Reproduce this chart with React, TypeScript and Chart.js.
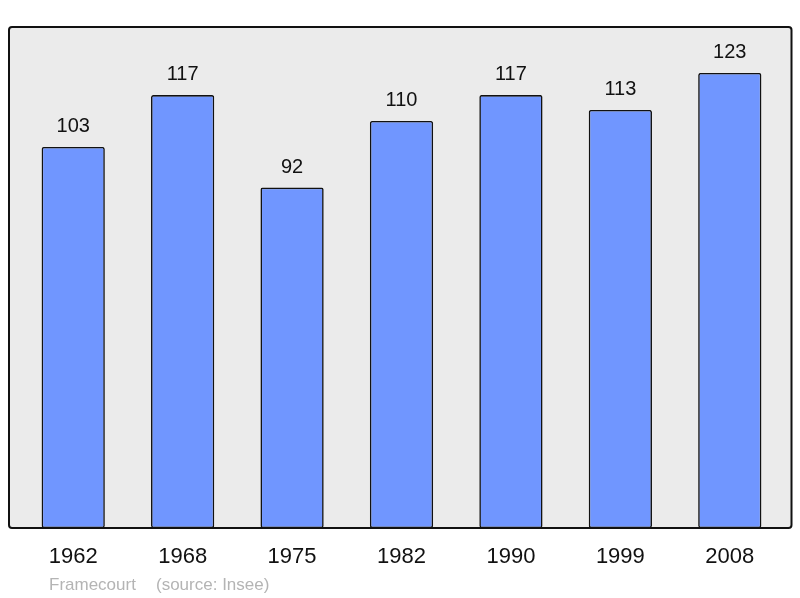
import React, { useEffect, useRef } from "react";
import { Chart, registerables } from "chart.js";

Chart.register(...registerables);

const years = ["1962", "1968", "1975", "1982", "1990", "1999", "2008"];
const population = [103, 117, 92, 110, 117, 113, 123];
const footerName = "Framecourt";
const footerSource = "(source: Insee)";

const FONT = "'Liberation Sans', Arial, sans-serif";

const framePlugin = {
  id: "frame",
  beforeDatasetsDraw(chart: any) {
    const { ctx, chartArea } = chart;
    const l = chartArea.left - 9.5;
    const r = chartArea.right + 7;
    const t = chartArea.top;
    const b = chartArea.bottom;
    ctx.save();
    ctx.beginPath();
    ctx.roundRect(l, t, r - l, b - t, 3);
    ctx.fillStyle = "#ebebeb";
    ctx.fill();
    ctx.lineWidth = 2;
    ctx.strokeStyle = "#111";
    ctx.stroke();
    ctx.restore();
  },
  afterDatasetsDraw(chart: any) {
    const { ctx } = chart;
    const meta = chart.getDatasetMeta(0);
    ctx.save();
    ctx.fillStyle = "#111";
    ctx.font = `20px ${FONT}`;
    ctx.textAlign = "center";
    ctx.textBaseline = "alphabetic";
    meta.data.forEach((bar: any, i: number) => {
      ctx.fillText(String(population[i]), bar.x, bar.y - 15);
    });
    ctx.fillStyle = "#b4b4b4";
    ctx.font = `17px ${FONT}`;
    ctx.textAlign = "left";
    ctx.fillText(footerName, 49, 590);
    ctx.fillText(footerSource, 156, 590);
    ctx.restore();
  },
};

export default function App() {
  const ref = useRef<HTMLCanvasElement | null>(null);
  useEffect(() => {
    if (!ref.current) return;
    const chart = new Chart(ref.current, {
      type: "bar",
      data: {
        labels: years,
        datasets: [
          {
            data: population,
            backgroundColor: "#7096ff",
            borderColor: "#111",
            borderWidth: 1.6,
            borderRadius: 2,
            borderSkipped: false,
            barPercentage: 0.578,
            categoryPercentage: 1,
          },
        ],
      },
      options: {
        animation: false,
        responsive: false,
        maintainAspectRatio: false,
        layout: { padding: { left: 18.5, right: 15.5, top: 27, bottom: 0 } },
        plugins: { legend: { display: false }, tooltip: { enabled: false } },
        scales: {
          y: { display: false, min: 0, max: 135.4 },
          x: {
            grid: { display: false, drawTicks: false },
            border: { display: false },
            ticks: {
              color: "#111",
              font: { family: FONT, size: 22 },
              padding: 16,
            },
            afterFit: (scale: any) => {
              scale.height = 70;
            },
          },
        },
      },
      plugins: [framePlugin],
    });
    return () => chart.destroy();
  }, []);
  return (
    <div style={{ position: "fixed", left: 0, top: 0, width: 800, height: 598, background: "#fff" }}>
      <canvas ref={ref} width={800} height={598} />
    </div>
  );
}
